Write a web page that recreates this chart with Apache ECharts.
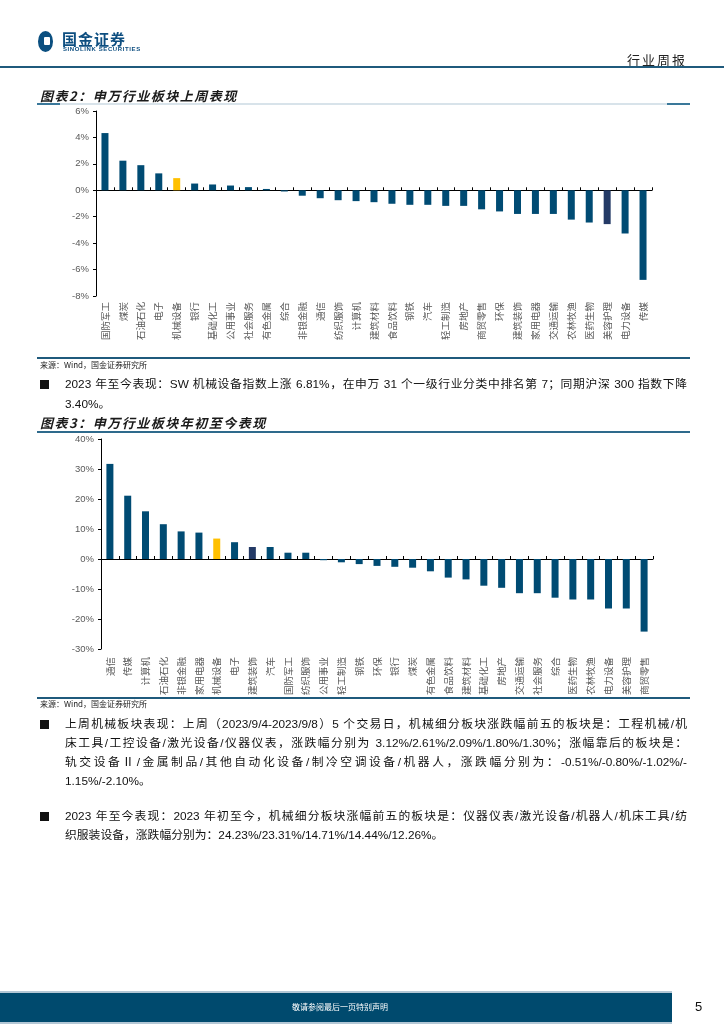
<!DOCTYPE html>
<html lang="zh-CN">
<head>
<meta charset="utf-8">
<script src="https://cdn.jsdelivr.net/npm/echarts/dist/echarts.min.js"></script>
<style>
  html,body{margin:0;padding:0;background:#fff;}
  #page{position:relative;width:724px;height:1024px;overflow:hidden;font-family:"Liberation Sans","Noto Sans CJK SC",sans-serif;color:#000;}
  #chart{position:absolute;left:0;top:0;width:724px;height:1024px;}
  .abs{position:absolute;}
  .nw{white-space:nowrap;}
  .title{font-family:"Noto Sans CJK SC",sans-serif;font-weight:bold;font-style:italic;font-size:13px;color:#1a1a1a;line-height:16px;letter-spacing:1.5px;}
  .src{font-family:"Noto Sans CJK SC",sans-serif;font-size:8px;color:#222;line-height:10px;}
  .ln{position:absolute;left:65px;width:622px;font-family:"Liberation Sans","Noto Sans CJK SC",sans-serif;font-size:11.8px;line-height:19px;height:19px;text-align:justify;text-align-last:justify;text-justify:inter-character;color:#111;}
  .ln.last{text-align:left;text-align-last:left;}
  .bul{position:absolute;left:40px;width:9px;height:9px;background:#111;}
</style>
</head>
<body>
<div id="page">
  <div id="chart"></div>

  <!-- header -->
  <div class="abs" style="left:38px;top:31px;width:15px;height:21px;border-radius:50%;background:#0b4f80;"></div>
  <div class="abs" style="left:44px;top:37px;width:6px;height:8px;border-radius:1px;background:#fff;"></div>
  <div class="abs nw" style="left:62px;top:30px;font-family:'Noto Sans CJK SC';font-weight:bold;font-size:15px;line-height:17px;color:#0d4e80;letter-spacing:1px;">国金证券</div>
  <div class="abs nw" style="left:63px;top:46px;font-family:'Liberation Sans';font-weight:bold;font-size:6px;line-height:7px;color:#0d4e80;letter-spacing:0.6px;">SINOLINK SECURITIES</div>
  <div class="abs nw" style="right:37px;top:51px;font-family:'Noto Sans CJK SC';font-size:13px;line-height:17px;color:#222;letter-spacing:2px;">行业周报</div>
  <div class="abs" style="left:0;top:66px;width:724px;height:1.5px;background:#1f5a7c;"></div>

  <!-- chart 1 title -->
  <div class="abs nw title" style="left:40px;top:88px;">图表2：申万行业板块上周表现</div>
  <div class="abs" style="left:37px;top:103px;width:653px;height:1.5px;background:#d8e3ea;"></div>
  <div class="abs" style="left:37px;top:103px;width:23px;height:1.5px;background:#3a789a;"></div>
  <div class="abs" style="left:667px;top:103px;width:23px;height:1.5px;background:#3a789a;"></div>
  <div class="abs" style="left:37px;top:357px;width:653px;height:1.5px;background:#1f5a7c;"></div>
  <div class="abs nw src" style="left:40px;top:360px;">来源：Wind，国金证券研究所</div>

  <!-- paragraph 1 -->
  <div class="bul" style="top:380px;"></div>
  <div class="ln" style="top:375px;">2023 年至今表现：SW 机械设备指数上涨 6.81%，在申万 31 个一级行业分类中排名第 7；同期沪深 300 指数下降</div>
  <div class="ln last" style="top:395px;">3.40%。</div>

  <!-- chart 2 title -->
  <div class="abs nw title" style="left:40px;top:415px;">图表3：申万行业板块年初至今表现</div>
  <div class="abs" style="left:37px;top:431px;width:653px;height:1.5px;background:#2e6a8c;"></div>
  <div class="abs" style="left:37px;top:697px;width:653px;height:1.5px;background:#1f5a7c;"></div>
  <div class="abs nw src" style="left:40px;top:699px;">来源：Wind，国金证券研究所</div>

  <!-- paragraph 2 -->
  <div class="bul" style="top:720px;"></div>
  <div class="ln" style="top:715px;">上周机械板块表现：上周（2023/9/4-2023/9/8）5 个交易日，机械细分板块涨跌幅前五的板块是：工程机械/机</div>
  <div class="ln" style="top:734px;">床工具/工控设备/激光设备/仪器仪表，涨跌幅分别为 3.12%/2.61%/2.09%/1.80%/1.30%；涨幅靠后的板块是：</div>
  <div class="ln" style="top:753px;">轨交设备Ⅱ/金属制品/其他自动化设备/制冷空调设备/机器人，涨跌幅分别为：-0.51%/-0.80%/-1.02%/-</div>
  <div class="ln last" style="top:772px;">1.15%/-2.10%。</div>

  <!-- paragraph 3 -->
  <div class="bul" style="top:812px;"></div>
  <div class="ln" style="top:807px;">2023 年至今表现：2023 年初至今，机械细分板块涨幅前五的板块是：仪器仪表/激光设备/机器人/机床工具/纺</div>
  <div class="ln last" style="top:826px;">织服装设备，涨跌幅分别为：24.23%/23.31%/14.71%/14.44%/12.26%。</div>

  <!-- footer -->
  <div class="abs" style="left:0;top:991px;width:672px;height:1.5px;background:#b3c7d5;"></div>
  <div class="abs" style="left:0;top:993px;width:672px;height:29px;background:#004a6e;"></div>
  <div class="abs nw" style="left:0;top:1001px;width:680px;text-align:center;font-family:'Noto Sans CJK SC';font-size:8px;line-height:11px;color:#fff;">敬请参阅最后一页特别声明</div>
  <div class="abs" style="left:0;top:1022px;width:672px;height:1.5px;background:#b3c7d5;"></div>
  <div class="abs nw" style="left:695px;top:999px;font-family:'Liberation Sans';font-size:13px;line-height:16px;color:#111;">5</div>
</div>

<script>
// ---- data: chart 1 (上周表现, %) ----
const cats1 = ['国防军工','煤炭','石油石化','电子','机械设备','银行','基础化工','公用事业','社会服务','有色金属','综合','非银金融','通信','纺织服饰','计算机','建筑材料','食品饮料','钢铁','汽车','轻工制造','房地产','商贸零售','环保','建筑装饰','家用电器','交通运输','农林牧渔','医药生物','美容护理','电力设备','传媒'];
const vals1 = [4.33, 2.24, 1.90, 1.28, 0.92, 0.51, 0.44, 0.36, 0.24, 0.10, -0.09, -0.41, -0.60, -0.75, -0.82, -0.90, -1.02, -1.10, -1.10, -1.18, -1.18, -1.44, -1.60, -1.79, -1.79, -1.79, -2.22, -2.44, -2.56, -3.27, -6.78];
const yMin1 = -8, yMax1 = 6, yStep1 = 2;

// ---- data: chart 2 (年初至今表现, %) ----
const cats2 = ['通信','传媒','计算机','石油石化','非银金融','家用电器','机械设备','电子','建筑装饰','汽车','国防军工','纺织服饰','公用事业','轻工制造','钢铁','环保','银行','煤炭','有色金属','食品饮料','建筑材料','基础化工','房地产','交通运输','社会服务','综合','医药生物','农林牧渔','电力设备','美容护理','商贸零售'];
const vals2 = [31.7, 21.1, 15.9, 11.6, 9.2, 8.8, 6.81, 5.6, 4.0, 4.0, 2.1, 2.1, -0.4, -1.1, -1.7, -2.3, -2.6, -2.9, -4.1, -6.2, -6.8, -8.9, -9.6, -11.4, -11.4, -12.9, -13.5, -13.5, -16.5, -16.5, -24.2];
const yMin2 = -30, yMax2 = 40, yStep2 = 10;

// highlighted categories
const highlightGold = '机械设备';
const highlightNavy1 = '美容护理';
const highlightNavy2 = '建筑装饰';

const BASE = '#004b73', GOLD = '#ffc000', NAVY = '#243a66';
function colored(cats, vals, navyName) {
  return vals.map((v, i) => ({
    value: v,
    itemStyle: { color: cats[i] === highlightGold ? GOLD : (cats[i] === navyName ? NAVY : BASE) }
  }));
}

const labelFont = { fontFamily: 'Noto Sans CJK SC', fontSize: 9.5, color: '#595959' };
const yLabelFont = { fontFamily: 'Liberation Sans', fontSize: 9.5, color: '#595959' };

function axesFor(gridIndex, cats, margin) {
  return [
    {
      type: 'category', gridIndex, data: cats,
      axisLine: { show: true, onZero: true, lineStyle: { color: '#000', width: 1 } },
      axisTick: { show: true, inside: true, length: 3, interval: 0, lineStyle: { color: '#000' } },
      axisLabel: { show: false },
      splitLine: { show: false }
    },
    {
      type: 'category', gridIndex, data: cats, position: 'bottom',
      axisLine: { show: false, onZero: false },
      axisTick: { show: false },
      axisLabel: Object.assign({ show: true, rotate: 90, interval: 0, margin }, labelFont),
      splitLine: { show: false }
    }
  ];
}
function yAxisFor(gridIndex, mn, mx, st) {
  return {
    type: 'value', gridIndex, min: mn, max: mx, interval: st,
    axisLine: { show: true, lineStyle: { color: '#000', width: 1 } },
    axisTick: { show: true, length: 3, lineStyle: { color: '#000' } },
    splitLine: { show: false },
    axisLabel: Object.assign({ margin: 7, formatter: v => v + '%' }, yLabelFont)
  };
}

const chart = echarts.init(document.getElementById('chart'), null, { renderer: 'canvas' });
chart.setOption({
  animation: false,
  backgroundColor: 'transparent',
  grid: [
    { left: 96, top: 111, width: 556, height: 185, containLabel: false, outerBoundsMode: 'none' },
    { left: 101, top: 439, width: 552, height: 210, containLabel: false, outerBoundsMode: 'none' }
  ],
  xAxis: [].concat(axesFor(0, cats1, 6), axesFor(1, cats2, 8)),
  yAxis: [yAxisFor(0, yMin1, yMax1, yStep1), yAxisFor(1, yMin2, yMax2, yStep2)],
  series: [
    { type: 'bar', xAxisIndex: 0, yAxisIndex: 0, barWidth: 7, data: colored(cats1, vals1, highlightNavy1) },
    { type: 'bar', xAxisIndex: 2, yAxisIndex: 1, barWidth: 7, data: colored(cats2, vals2, highlightNavy2) }
  ]
});
</script>
</body>
</html>
